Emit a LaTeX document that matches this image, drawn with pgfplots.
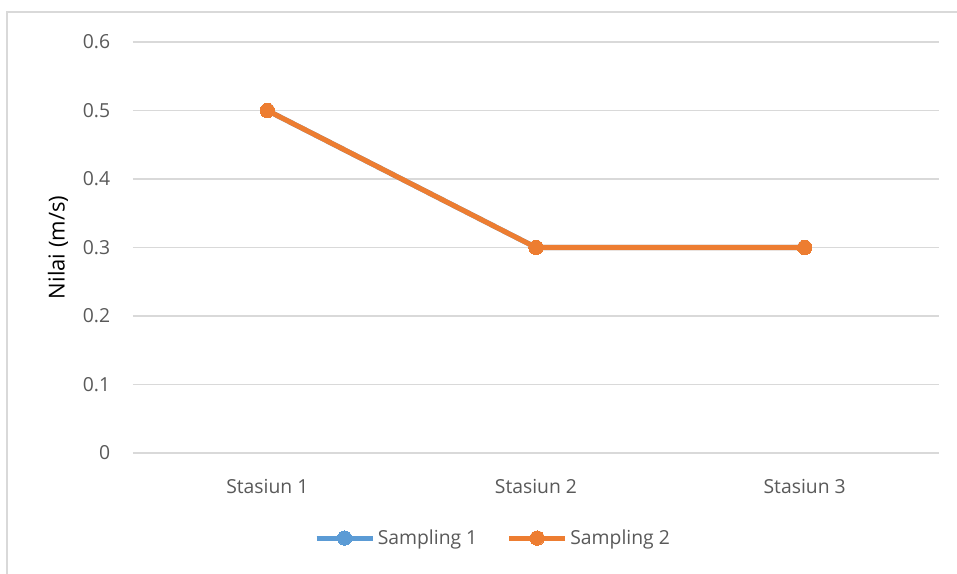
\documentclass[border=0pt]{standalone}
\usepackage{pgfplots}
\pgfplotsset{compat=1.18}
\usepackage{fontspec}
\setmainfont{Open Sans}
\definecolor{s1}{HTML}{5B9BD5}
\definecolor{s2}{HTML}{ED7D31}
\definecolor{gridgray}{HTML}{D9D9D9}
\definecolor{ticktext}{HTML}{595959}
\begin{document}
\begin{tikzpicture}[x=0.75pt,y=0.75pt]
\useasboundingbox (0,0) rectangle (957,574);
\fill[white] (0,0) rectangle (957,574);
% chart area frame
\draw[gridgray, line width=1.5pt] (7,-2) -- (7,562) -- (960,562);
\begin{axis}[
  at={(99.75pt,90.75pt)}, anchor=south west,
  scale only axis, width=604.5pt, height=308.25pt,
  xmin=-0.5, xmax=2.5, ymin=0, ymax=0.6,
  xtick={0,1,2}, xticklabels={Stasiun 1, Stasiun 2, Stasiun 3},
  ytick={0,0.1,...,0.6},
  axis line style={draw=none},
  major tick length=0pt,
  ymajorgrids, grid style={gridgray, line width=1.1pt},
  /pgf/number format/.cd, fixed, precision=1, assume math mode=true,
  /pgfplots/.cd,
  tick label style={font=\fontsize{14.5}{16}\selectfont, text=ticktext},
  yticklabel style={inner sep=0pt, anchor=east, xshift=-17pt},
  xticklabel style={inner sep=0pt, anchor=north, yshift=-19.5pt},
  ylabel={Nilai (m/s)},
  ylabel style={font=\fontsize{16.5}{18}\selectfont, at={(axis description cs:-0.093,0.5)}, anchor=center},
  legend columns=2,
  legend style={draw=none, fill=none, at={(axis description cs:0.447,-0.207)}, anchor=center,
    font=\fontsize{14.5}{16}\selectfont, text=ticktext,
    /tikz/every odd column/.append style={column sep=0pt},
    /tikz/every even column/.append style={column sep=20pt},
    /tikz/every node/.append style={inner xsep=2pt}},
  legend image code/.code={
    \draw[#1, mark=none] (0pt,0pt) -- (42pt,0pt);
    \draw[#1, only marks] plot coordinates {(21pt,0pt)};
  },
]
\addplot[s1, line width=3.8pt, mark=*, mark size=5.4pt, mark options={solid, fill=s1, line width=0pt}]
  coordinates {(0,0.5) (1,0.3) (2,0.3)};
\addlegendentry{Sampling 1}
\addplot[s2, line width=3.8pt, mark=*, mark size=5.4pt, mark options={solid, fill=s2, line width=0pt}]
  coordinates {(0,0.5) (1,0.3) (2,0.3)};
\addlegendentry{Sampling 2}
\end{axis}
\end{tikzpicture}
\end{document}
